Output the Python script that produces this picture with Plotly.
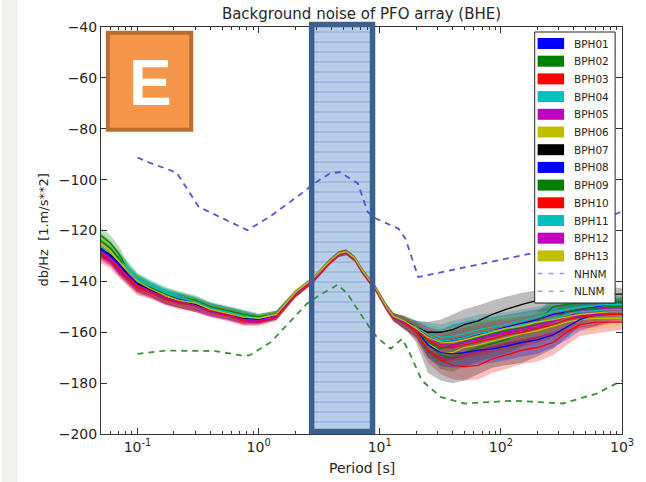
import plotly.graph_objects as go

# period grid (s) where the station PSD curves were read
PERIODS = [0.05, 0.06, 0.07, 0.085, 0.1, 0.13, 0.17, 0.22, 0.3, 0.4, 0.55, 0.75, 1.0, 1.4, 2.0,
           2.8, 3.9, 4.6, 5.3, 6.2, 7.2, 9.3, 11.3, 13, 16, 20, 25, 32, 40, 50, 65, 85, 110,
           150, 200, 270, 350, 450, 600, 800, 1000]

# median PSD (dB) per station
BPH01 = [-128, -130, -133.5, -137, -140, -142.5, -145.5, -147, -148.5, -150.5, -152, -153.5, -154.5, -153, -145,
         -139.5, -132, -129.2, -128.5, -131, -136, -143, -150, -154, -156.5,
         -158, -162, -164, -163, -162, -161, -159.5, -158, -156.5, -155, -153, -152, -151, -150, -149, -149]
BPH02 = [-122, -125, -129, -136, -139.5, -142, -144.5, -146, -147.5, -150, -151.5, -153, -154, -153, -145,
         -139.5, -132, -129.2, -128.5, -131, -136, -143, -150, -154, -156,
         -159, -165, -169, -170, -168, -166, -164.5, -163, -160, -156, -150, -149, -148.5, -148, -148, -148]
BPH03 = [-130, -132, -135, -139.5, -142.5, -144.5, -147, -148.5, -149.5, -152, -153.5, -155.5, -156, -154, -145.5,
         -140, -132.5, -129.5, -128.8, -131.3, -136.5, -143.5, -150.5, -154.5, -156.5,
         -160, -167, -171, -173, -173.5, -173, -170.5, -169, -167, -166, -164, -160, -157, -156, -156, -156]
BPH04 = [-126, -128.5, -131.5, -135, -139, -141.5, -144, -146, -148, -150.5, -152, -153.5, -154.5, -153, -145,
         -139.5, -132, -129.2, -128.5, -131, -136, -143, -150, -154, -155.5,
         -158, -160, -162, -161.5, -160.5, -159, -158, -157, -155.5, -154, -152, -151, -150, -149.5, -149, -149]
BPH05 = [-128, -130.5, -134, -138, -141.5, -144, -146.5, -148, -149.5, -152, -153, -155, -155.5, -153.5, -145,
         -139.5, -132, -129.2, -128.5, -131, -136, -143, -150, -154, -156,
         -158.5, -163, -166, -165.5, -164, -163, -161.5, -160.5, -159, -158, -156, -154, -152, -151, -150.5, -150.5]
BPH06 = [-125, -128, -132, -137, -140.5, -143.5, -146, -147.5, -148.5, -151, -152.5, -154, -154.5, -153, -144.5,
         -139, -131.8, -129, -128.3, -130.8, -135.8, -142.8, -149.8, -153.8, -155.5,
         -159, -164, -168, -168, -166, -165, -163.5, -162, -160.5, -159.5, -157.5, -156, -155, -154.5, -154.5, -154.5]
BPH07 = [-127, -129.5, -133, -138, -141, -143.5, -146.5, -148, -149, -151.5, -153, -154.5, -155, -153.5, -145,
         -139.5, -132, -129.2, -128.5, -131, -136, -143, -150, -154, -155.5,
         -158, -160, -160, -159, -157, -155.5, -153, -151, -149, -147.5, -146.5, -146, -145.5, -145, -145, -145]
BPH08 = [-127.5, -130, -133, -137.5, -140.5, -143, -145.5, -147, -148.5, -151, -152.5, -154, -155, -153.5, -145,
         -139.5, -132, -129.2, -128.5, -131, -136, -143, -150, -154, -156,
         -159, -165, -168, -168.5, -168, -167, -166.5, -165.5, -164, -163, -161, -158, -155, -153, -152, -152]
BPH09 = [-124, -127, -131, -136.5, -140, -142.5, -145, -146.5, -148, -150.5, -152, -153.5, -154.5, -153, -145,
         -139.5, -132, -129.2, -128.5, -131, -136, -143, -150, -154, -156,
         -158.5, -164, -166.5, -165, -163.5, -162, -160.5, -159.5, -158, -157, -155, -152, -151, -150.5, -150, -150]
BPH10 = [-129, -131, -134, -139, -142, -144, -146.5, -148, -149.5, -151.5, -153, -155, -155.5, -154, -145.5,
         -140, -132.3, -129.4, -128.7, -131.2, -136.3, -143.3, -150.3, -154.3, -156.3,
         -159, -163, -166, -166, -165, -164, -162.5, -161, -160, -158.5, -157, -155, -154, -153.5, -153, -153]
BPH11 = [-126.5, -129, -132, -135.5, -139.5, -142, -144.5, -146.5, -148, -150.5, -152, -153.5, -154.5, -153, -145,
         -139.5, -132, -129.2, -128.5, -131, -136, -143, -150, -154, -156,
         -158, -161, -163.5, -163, -162, -160.5, -159.5, -158.5, -157, -156, -154.5, -153, -152, -151.5, -151, -151]
BPH12 = [-128.5, -131, -134.5, -138.5, -141.5, -144, -146.5, -148, -149.5, -152, -153.5, -155, -155.5, -153.5, -145,
         -139.5, -132, -129.2, -128.5, -131, -136, -143, -150, -154, -156,
         -158.5, -162, -165, -165, -164, -162.5, -161, -160, -158.5, -157, -155.5, -154, -153.5, -153, -152.5, -152.5]
BPH13 = [-125.5, -128.5, -132, -136.5, -140, -143, -145.5, -147.5, -148.5, -151, -152.5, -154, -154.5, -153, -144.5,
         -139, -131.8, -129, -128.3, -130.8, -135.8, -142.8, -149.8, -153.8, -155.5,
         -158.5, -162, -164, -164, -163, -161.5, -160, -158.5, -157.5, -156, -155, -154, -153, -152.5, -152, -152]

# spread of the percentile band above / below the median (dB)
SPREAD_UP = [3, 3, 3, 2.5, 2.5, 2, 2, 2, 2, 2, 2, 2, 1.5, 1.5, 1.2, 1, 1, 1, 1, 1, 1, 1, 1.2, 1.5, 2,
             2.5, 4, 5, 6, 6, 6, 5.5, 5, 4.5, 4, 3.5, 3, 3, 3, 2.5, 2.5]
SPREAD_DN = [3, 3, 3.5, 3, 3, 2.5, 2.5, 2.5, 2.5, 2, 2, 2, 1.5, 1.5, 1.2, 1, 1, 1, 1, 1, 1, 1, 1.2, 1.5, 2.5,
             3, 5, 5.5, 5.5, 5.5, 5.5, 5.5, 5.5, 5.5, 5.5, 5, 5, 4.5, 4.5, 3.5, 3]
# BPH07 has a much wider lower band at long periods (the big grey area)
BPH07_SPREAD_DN = [3, 3, 3.5, 3, 3, 2.5, 2.5, 2.5, 2.5, 2, 2, 2, 1.5, 1.5, 1.2, 1, 1, 1, 1, 1, 1, 1, 1.2, 1.5, 2.5,
                   6, 16, 19, 21, 22, 21, 21, 22, 23, 22, 20, 16, 12, 9, 6, 5]

STATIONS = ['BPH01', 'BPH02', 'BPH03', 'BPH04', 'BPH05', 'BPH06', 'BPH07',
            'BPH08', 'BPH09', 'BPH10', 'BPH11', 'BPH12', 'BPH13']
MEDIANS = [BPH01, BPH02, BPH03, BPH04, BPH05, BPH06, BPH07,
           BPH08, BPH09, BPH10, BPH11, BPH12, BPH13]
LOWER_SPREADS = [SPREAD_DN] * 6 + [BPH07_SPREAD_DN] + [SPREAD_DN] * 6
COLORS = ['#0000ff', '#008000', '#ff0000', '#00bfbf', '#bf00bf', '#bfbf00', '#000000',
          '#0000ff', '#008000', '#ff0000', '#00bfbf', '#bf00bf', '#bfbf00']

# Peterson noise models as drawn
NHNM_PERIODS = [0.1, 0.125, 0.21, 0.32, 0.81, 1.26, 2.07, 2.58, 3.0, 3.87, 4.67, 6.6, 7.95, 9.3,
                14.3, 16.3, 20.8, 174, 1000]
NHNM_DB = [-91.3, -93.3, -97.2, -110.7, -119.9, -114.3, -106.8, -103.5, -100.9, -97.6, -97.0, -101.5,
           -112.7, -115.3, -119.3, -123.2, -138.3, -129.1, -112.4]
NLNM_PERIODS = [0.1, 0.171, 0.436, 0.72, 0.84, 1.26, 2.5, 3.0, 4.5, 5.4, 8.2, 9.5, 12.3, 15.3,
                17.2, 22.3, 32, 50, 128, 325, 610, 1000]
NLNM_DB = [-168.5, -167.2, -167.4, -169.1, -169.1, -163.9, -148.8, -146.2, -141.3, -144.8, -158, -162,
           -166.5, -162.6, -167, -179, -185.5, -188, -186.9, -188, -184.2, -179]
NHNM_COLOR = '#5a52d6'
NLNM_COLOR = '#3f8f3f'

WINDOW = [2.74, 8.72]  # highlighted period window (s)
Y_RANGE = [-200, -40]
X_TICKS = [0.1, 1, 10, 100, 1000]
X_TICKTEXT = ['10<sup>-1</sup>', '10<sup>0</sup>', '10<sup>1</sup>', '10<sup>2</sup>', '10<sup>3</sup>']
X_MINOR = [0.05, 0.06, 0.07, 0.08, 0.09] + [d * m for d in (0.1, 1, 10, 100) for m in range(2, 10)]

W, H = 646, 482
L, T, R, B = 101, 27, 632, 434  # plot area in px


def px(x):
    return (x - L) / (R - L)


def py(y):
    return (B - y) / (B - T)


def rgba(hex_col, a):
    h = hex_col.lstrip('#')
    return 'rgba(%d,%d,%d,%.2f)' % (int(h[0:2], 16), int(h[2:4], 16), int(h[4:6], 16), a)


fig = go.Figure()

# hatched window fill, first so curves sit on top of it
fig.add_trace(go.Scatter(
    x=[WINDOW[0], WINDOW[1], WINDOW[1], WINDOW[0], WINDOW[0]],
    y=[Y_RANGE[0], Y_RANGE[0], Y_RANGE[1], Y_RANGE[1], Y_RANGE[0]],
    fill='toself', mode='none', fillcolor='#b8cde8',
    fillpattern=dict(shape='-', bgcolor='#b8cde8', fgcolor='#5f8fd4', size=10, solidity=0.12),
    showlegend=False, hoverinfo='skip'))

# percentile bands
for med, dn, col in zip(MEDIANS, LOWER_SPREADS, COLORS):
    upper = [v + s for v, s in zip(med, SPREAD_UP)]
    lower = [v - s for v, s in zip(med, dn)]
    fig.add_trace(go.Scatter(x=PERIODS, y=upper, mode='lines', line=dict(width=0),
                             showlegend=False, hoverinfo='skip'))
    fig.add_trace(go.Scatter(x=PERIODS, y=lower, mode='lines', line=dict(width=0),
                             fill='tonexty', fillcolor=rgba(col, 0.26),
                             showlegend=False, hoverinfo='skip'))

# median lines
for name, med, col in zip(STATIONS, MEDIANS, COLORS):
    fig.add_trace(go.Scatter(x=PERIODS, y=med, mode='lines', line=dict(color=col, width=1.3),
                             name=name, showlegend=False))

fig.add_trace(go.Scatter(x=NHNM_PERIODS, y=NHNM_DB, mode='lines', name='NHNM', showlegend=False,
                         line=dict(color=NHNM_COLOR, width=1.8, dash='6px,5px')))
fig.add_trace(go.Scatter(x=NLNM_PERIODS, y=NLNM_DB, mode='lines', name='NLNM', showlegend=False,
                         line=dict(color=NLNM_COLOR, width=1.8, dash='6px,5px')))

# matplotlib-style legend drawn by hand (plotly's rows are too tall)
leg_box = (543, 32, 625, 303)
row0, row_h = 43.5, 17.7
shapes = [
    dict(type='rect', xref='paper', yref='paper', x0=px(0), x1=px(16), y0=py(H), y1=py(0),
         fillcolor='#f1f1ef', line=dict(width=0), layer='below'),
    dict(type='rect', xref='paper', yref='paper', x0=px(leg_box[0]), x1=px(leg_box[2]),
         y0=py(leg_box[3]), y1=py(leg_box[1]), fillcolor='white', line=dict(color='#222', width=1),
         layer='above'),
]
annotations = []
labels = STATIONS + ['NHNM', 'NLNM']
for i, name in enumerate(labels):
    yc = row0 + i * row_h
    if i < len(STATIONS):
        shapes.append(dict(type='rect', xref='paper', yref='paper', x0=px(546), x1=px(573),
                           y0=py(yc + 5.5), y1=py(yc - 5.5), fillcolor=COLORS[i],
                           line=dict(width=0), layer='above'))
    else:
        col = NHNM_COLOR if name == 'NHNM' else NLNM_COLOR
        shapes.append(dict(type='line', xref='paper', yref='paper', x0=px(546), x1=px(573),
                           y0=py(yc), y1=py(yc), line=dict(color=rgba(col, 0.6), width=1.5, dash='5px,6px'),
                           layer='above'))
    annotations.append(dict(text=name, x=px(581), y=py(yc), xref='paper', yref='paper', showarrow=False,
                            xanchor='left', yanchor='middle',
                            font=dict(family='DejaVu Sans', size=10.5, color='#262626')))

shapes += [
    # window outline
    dict(type='rect', xref='x', yref='paper', x0=WINDOW[0], x1=WINDOW[1],
         y0=py(431.5), y1=py(24.5), line=dict(color='#3b6090', width=5.5), layer='above'),
    # panel label box
    dict(type='rect', xref='paper', yref='paper', x0=px(108), x1=px(193), y0=py(129.7), y1=py(32.7),
         fillcolor='#f5964b', line=dict(color='#b86d31', width=4), layer='above'),
]
annotations += [
    dict(text='<b>E</b>', x=px(151), y=py(83), xref='paper', yref='paper', showarrow=False,
         xanchor='center', yanchor='middle',
         font=dict(family='Liberation Sans', size=64, color='white')),
    dict(text='Period [s]', x=px(366.5), y=py(468), xref='paper', yref='paper', showarrow=False,
         xanchor='center', yanchor='middle', font=dict(family='DejaVu Sans', size=14, color='#262626')),
    dict(text='db/Hz\u00a0 [1.m/s**2]', x=px(42), y=py(230.5), xref='paper', yref='paper',
         showarrow=False, textangle=-90, xanchor='center', yanchor='middle',
         font=dict(family='DejaVu Sans', size=13, color='#262626')),
]

axis_font = dict(family='DejaVu Sans', size=14, color='#262626')
fig.update_xaxes(type='log', range=[-1.30103, 3], showgrid=False, zeroline=False,
                 showline=True, linecolor='#333', linewidth=1, mirror='ticks',
                 ticks='inside', ticklen=6, tickcolor='#333',
                 tickvals=X_TICKS, ticktext=X_TICKTEXT, tickfont=axis_font,
                 minor=dict(ticks='inside', ticklen=3, tickcolor='#333', tickvals=X_MINOR))
fig.update_yaxes(range=Y_RANGE, showgrid=False, zeroline=False,
                 showline=True, linecolor='#333', linewidth=1, mirror='ticks',
                 ticks='inside', ticklen=6, tickcolor='#333',
                 tick0=-200, dtick=20, tickfont=axis_font)

fig.update_layout(
    width=W, height=H,
    margin=dict(l=L, r=W - R, t=T, b=H - B),
    paper_bgcolor='white', plot_bgcolor='rgba(0,0,0,0)',
    font=dict(family='DejaVu Sans', color='#262626'),
    showlegend=False,
    title=dict(text='Background noise of PFO array (BHE)', x=px(366.5), xref='paper', xanchor='center',
               y=1 - 14 / H, yref='container', yanchor='middle',
               font=dict(family='DejaVu Sans', size=15, color='#262626')),
    shapes=shapes,
    annotations=annotations,
)

fig.write_html("out.html", config={'displayModeBar': False},
               post_script="document.body.style.margin='0px';")
